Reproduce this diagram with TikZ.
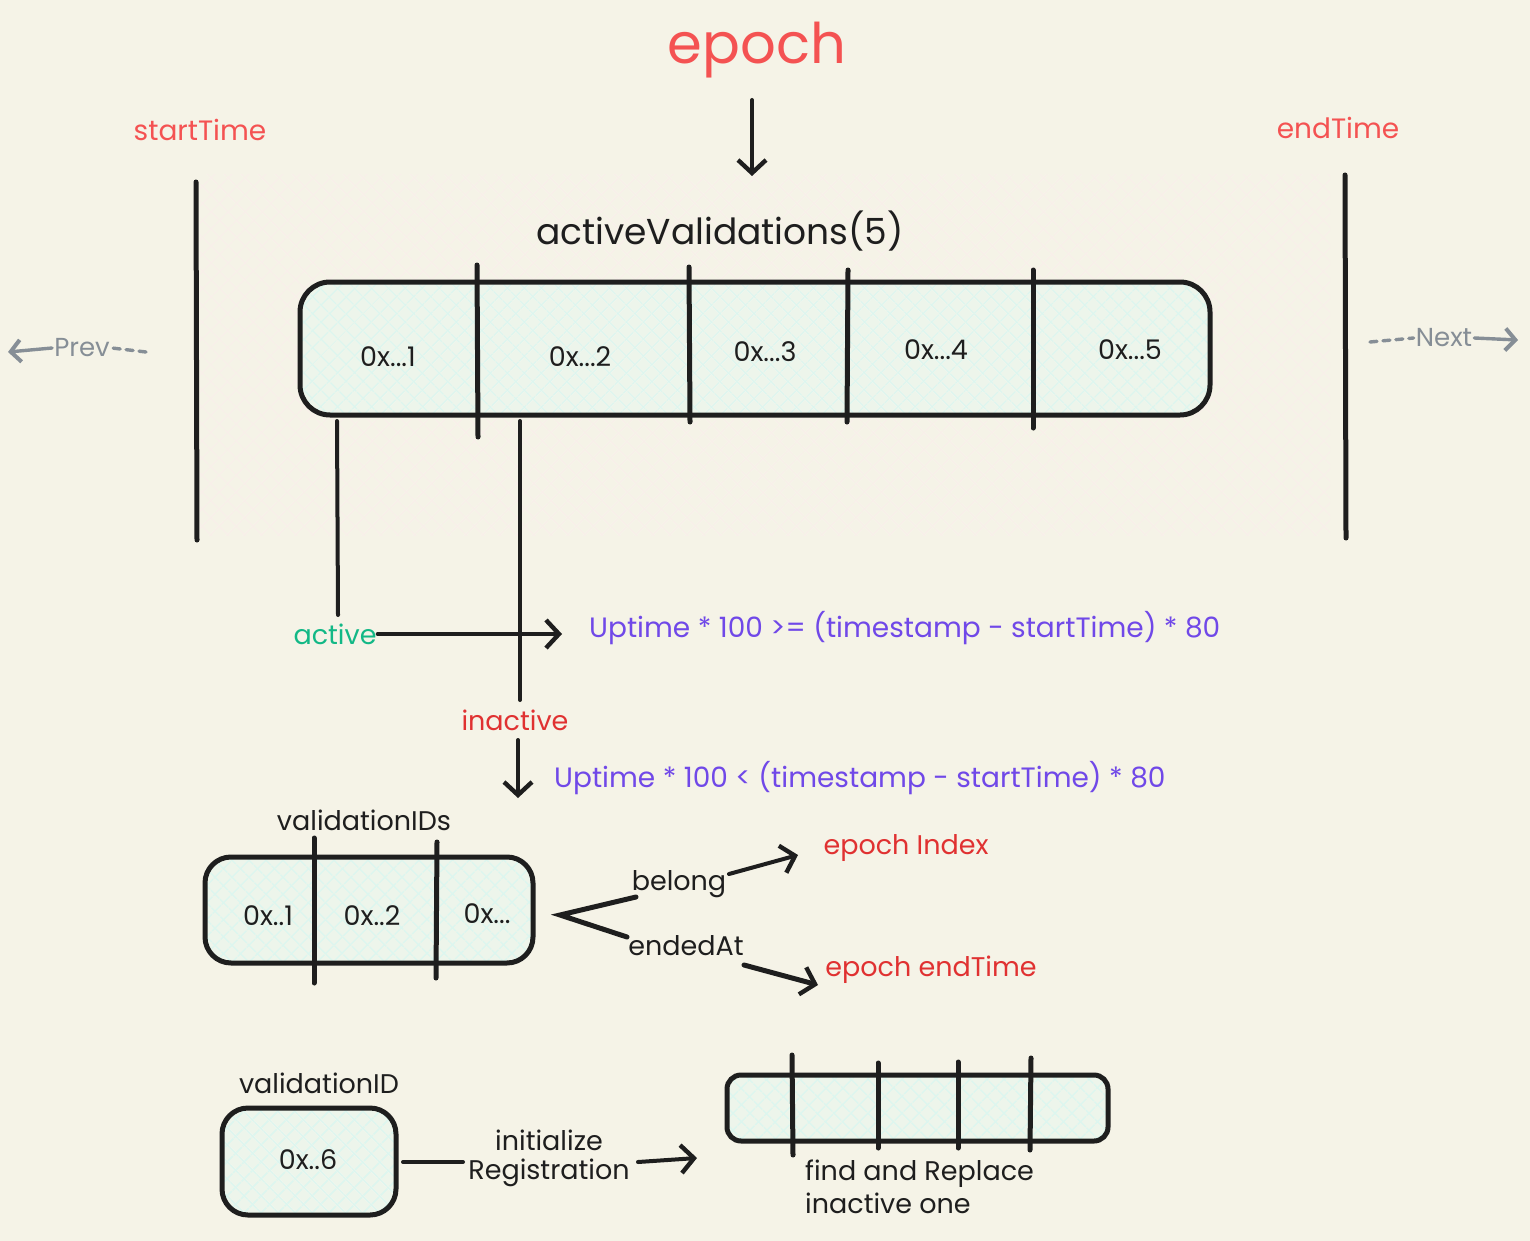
\documentclass[tikz,border=0pt]{standalone}
\usepackage{fontspec}
\setmainfont{Poppins}
\usetikzlibrary{arrows.meta,patterns.meta}
\definecolor{bg}{HTML}{F5F3E7}
\definecolor{ink}{HTML}{1E1E1E}
\definecolor{titlered}{HTML}{F45252}
\definecolor{lblred}{HTML}{E03131}
\definecolor{grn}{HTML}{12B886}
\definecolor{purp}{HTML}{7048E8}
\definecolor{gry}{HTML}{868E96}
\definecolor{hatchpink}{HTML}{F9EFEA}
\definecolor{cellfill}{HTML}{EDF5EB}
\definecolor{cellhatch}{HTML}{DCF6EF}
\tikzset{
  fs/.style={font=\fontsize{#1}{#1}\selectfont},
  txt/.style={fs=27, text=ink, inner sep=1pt},
  boxst/.style={fill=cellfill,
     postaction={pattern={Lines[angle=45,distance=13pt,line width=1.6pt]}, pattern color=cellhatch},
     postaction={pattern={Lines[angle=-45,distance=13pt,line width=1.6pt]}, pattern color=cellhatch},
     postaction={draw=ink, line width=5pt}},
  divst/.style={draw=ink, line width=5pt, line cap=round},
  conn/.style={draw=ink, line width=4pt, line cap=round},
  arr/.style={conn, -{Straight Barb[length=13pt,width=28pt,line width=4.4pt]}},
  garr/.style={draw=gry, line width=3.4pt, dash pattern=on 7pt off 6pt, line cap=round},
}
\begin{document}
\begin{tikzpicture}[x=1pt,y=-1pt]
\fill[bg] (0,0) rectangle (1530,1241);
\useasboundingbox (0,0) rectangle (1530,1241);

% hatched epoch region
\fill[pattern={Lines[angle=45,distance=13pt,line width=1.4pt]}, pattern color=hatchpink] (200,175) rectangle (1330,535);
\fill[pattern={Lines[angle=-45,distance=13pt,line width=1.4pt]}, pattern color=hatchpink] (200,175) rectangle (1330,535);

% title
\node[fs=56, text=titlered, inner sep=0pt] (epoch) at (757,50) {epoch};
\coordinate (epochArrowTop) at (752,100);
\coordinate (epochArrowEnd) at (752,176);
\draw[arr] (epochArrowTop) -- (epochArrowEnd);

% start / end time
\node[fs=28, text=titlered] (start) at (200,130) {startTime};
\node[fs=28, text=titlered] (end) at (1338,128) {endTime};
\coordinate (sb1) at (196,182); \coordinate (sb2) at (197,540);
\coordinate (eb1) at (1345,175); \coordinate (eb2) at (1346,538);
\draw[divst, line width=5pt] (sb1) -- (sb2);
\draw[divst, line width=5pt] (eb1) -- (eb2);

% prev / next
\node[fs=26, text=gry, inner sep=2pt] (prev) at (82,348) {Prev};
\coordinate (prevR) at (146,352); \coordinate (prevL) at (8,352);
\draw[garr] (prevR) -- (prev.east);
\draw[garr, solid, -{Straight Barb[length=10pt,width=22pt,line width=4pt]}] (prev.west) -- (prevL);
\node[fs=26, text=gry, inner sep=2pt] (next) at (1444,338) {Next};
\coordinate (nextL) at (1370,342); \coordinate (nextR) at (1518,340);
\draw[garr] (nextL) -- (next.west);
\draw[garr, solid, -{Straight Barb[length=10pt,width=22pt,line width=4pt]}] (next.east) -- (nextR);

% activeValidations box
\node[txt, fs=36] (avlbl) at (720,231) {activeValidations(5)};
\node[boxst, rounded corners=30pt, minimum width=910pt, minimum height=133pt, inner sep=0pt] (av) at (755,348.5) {};
\draw[divst] (477,265) -- (478,437);
\draw[divst] (689,267) -- (690,422);
\draw[divst] (848,270) -- (847,422);
\draw[divst] (1033,270) -- (1033,428);
\node[txt] (c1) at (388,357) {0x...1};
\node[txt] (c2) at (580,357) {0x...2};
\node[txt] (c3) at (765,352) {0x...3};
\node[txt] (c4) at (936,350) {0x...4};
\node[txt] (c5) at (1130,350) {0x...5};

% active / inactive branches
\coordinate (a1) at (337,421);
\coordinate (a2) at (338,615);
\coordinate (i1) at (520,421);
\coordinate (i2) at (520,700);
\node[txt, text=grn] (act) at (335,634) {active};
\node[txt, text=lblred] (inact) at (515,720) {inactive};
\draw[conn] (a1) -- (a2);
\draw[conn] (i1) -- (i2);
\node[fs=28, text=purp, anchor=west, inner sep=0pt] (up1) at (589,628) {Uptime * 100 >= (timestamp - startTime) * 80};
\node[fs=28, text=purp, anchor=west, inner sep=0pt] (up2) at (554,778) {Uptime * 100 < (timestamp - startTime) * 80};
\coordinate (actEnd) at (562,634);
\draw[arr] (act.east) -- (actEnd);
\coordinate (inStart) at (518,740);
\coordinate (inEnd) at (518,798);
\draw[arr] (inStart) -- (inEnd);

% validationIDs
\node[txt] (vids) at (364,820) {validationIDs};
\node[boxst, rounded corners=26pt, minimum width=328pt, minimum height=106pt, inner sep=0pt] (vb) at (369,910) {};
\draw[divst] (314,838) -- (314,983);
\draw[divst] (437,842) -- (436,978);
\node[txt] (v1) at (268,916) {0x..1};
\node[txt] (v2) at (372,916) {0x..2};
\node[txt] (v3) at (487,914) {0x...};

% belong / endedAt
\node[txt] (belong) at (679,884) {belong};
\node[txt] (ended) at (686,946) {endedAt};
\coordinate (fork) at (560,915);
\coordinate (bstart) at (636,897);
\coordinate (estart) at (627,937);
\draw[conn, line width=5pt, line join=miter] (bstart) -- (fork) -- (estart);
\node[txt, text=lblred] (eidx) at (906,848) {epoch Index};
\node[txt, text=lblred] (eend) at (931,970) {epoch endTime};
\coordinate (bl1) at (729,874); \coordinate (bl2) at (798,855);
\coordinate (ea1) at (744,965); \coordinate (ea2) at (818,985);
\draw[arr] (bl1) -- (bl2);
\draw[arr, line width=5pt] (ea1) -- (ea2);

% validationID
\node[txt] (vid) at (319,1083) {validationID};
\node[boxst, rounded corners=26pt, minimum width=174pt, minimum height=107pt, inner sep=0pt] (v6box) at (309,1161.5) {};
\node[txt] (v6) at (308,1160) {0x..6};
\node[txt, align=center, inner sep=0pt] (initreg) at (549,1158) {initialize\\[2pt]Registration};
\coordinate (ir1) at (403,1162); \coordinate (ir2) at (463,1162);
\draw[conn] (ir1) -- (ir2);
\node[boxst, rounded corners=14pt, minimum width=381pt, minimum height=66pt, inner sep=0pt] (tb) at (917.5,1108) {};
\coordinate (ir3) at (638,1162); \coordinate (ir4) at (697,1158);
\draw[arr] (ir3) -- (ir4);
\draw[divst] (792,1055) -- (793,1155);
\draw[divst] (878,1063) -- (878,1148);
\draw[divst] (958,1062) -- (958,1148);
\draw[divst] (1031,1058) -- (1030,1150);
\node[txt, anchor=north west, align=left, inner sep=0pt] (fr) at (805,1160) {find and Replace\\[4pt]inactive one};
\end{tikzpicture}
\end{document}
